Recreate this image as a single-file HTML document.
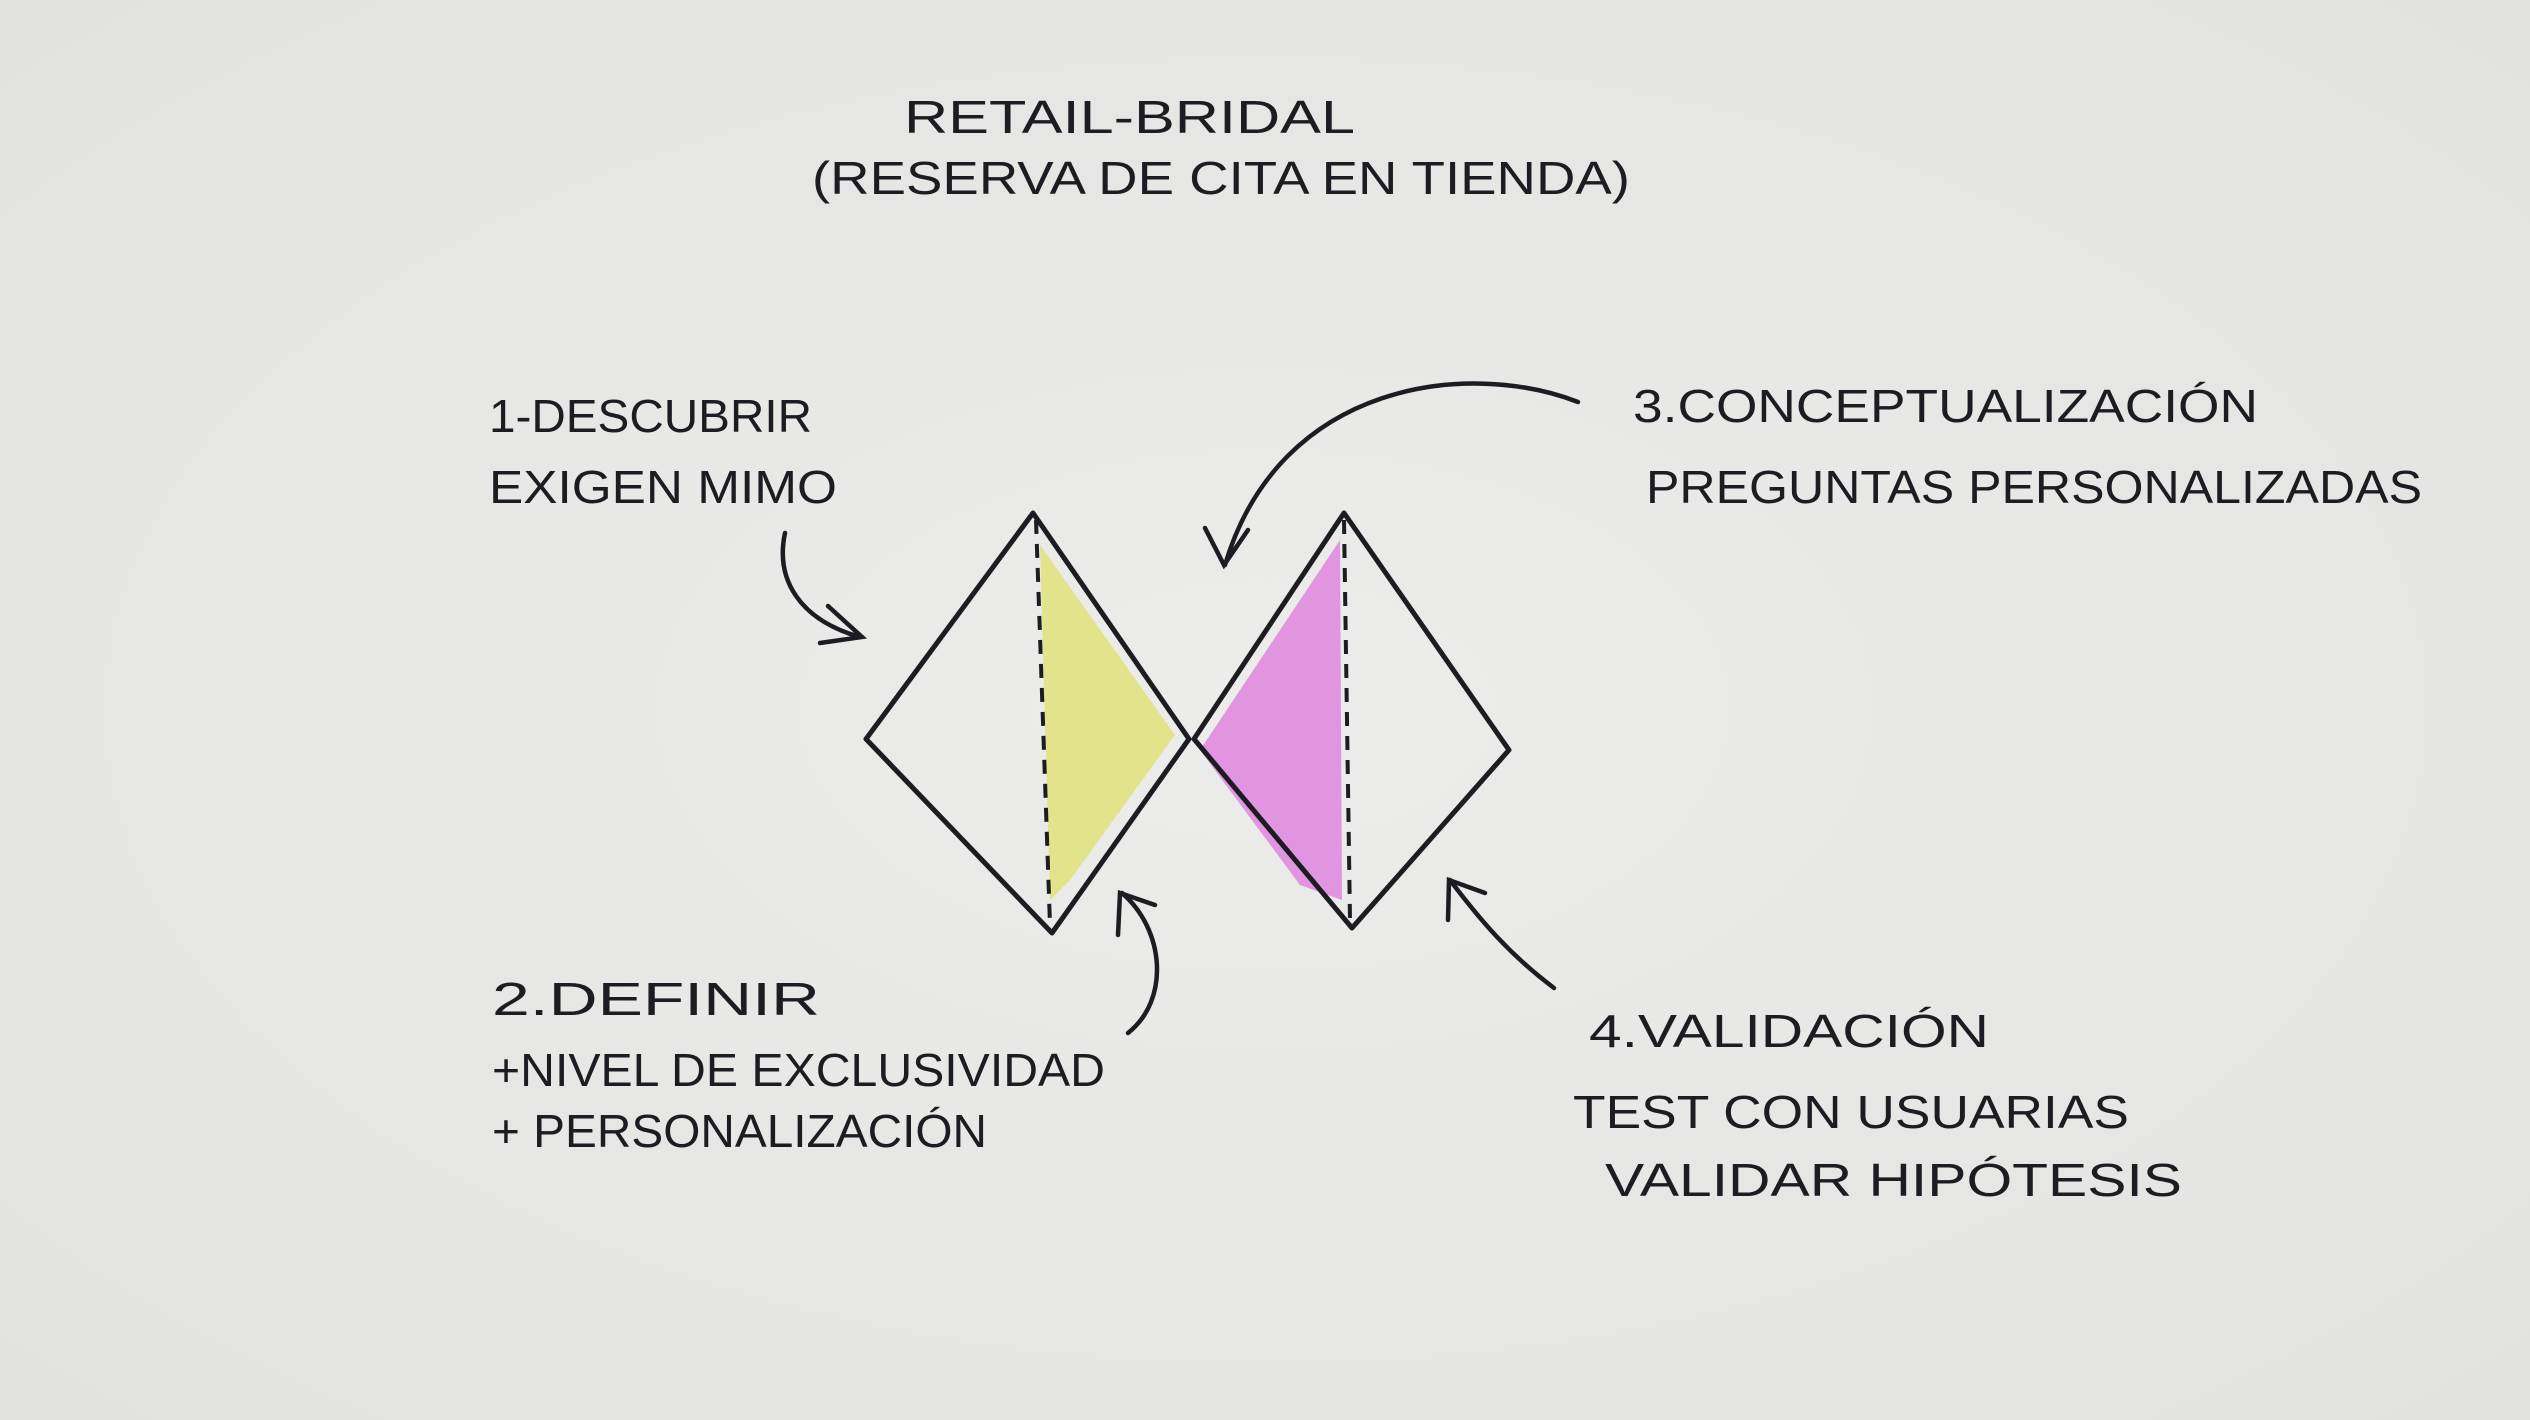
<!DOCTYPE html>
<html><head><meta charset="utf-8"><style>
html,body{margin:0;padding:0;background:#e9e9e7;}
svg{display:block;}
text{font-family:"Liberation Sans",sans-serif;fill:#1c1c22;font-size:46px;}
</style></head><body>
<svg width="2530" height="1420" viewBox="0 0 2530 1420" xmlns="http://www.w3.org/2000/svg">
<defs>
<radialGradient id="bg" cx="50%" cy="50%" r="70%">
<stop offset="0" stop-color="#ececea"/><stop offset="1" stop-color="#e2e2e0"/>
</radialGradient>
</defs>
<rect width="2530" height="1420" fill="url(#bg)"/>

<text x="904" y="133" textLength="451" lengthAdjust="spacingAndGlyphs" font-size="48">RETAIL-BRIDAL</text>
<text x="812" y="194" textLength="818" lengthAdjust="spacingAndGlyphs" font-size="48">(RESERVA DE CITA EN TIENDA)</text>

<!-- fills -->
<polygon points="1040,545 1175,735 1070,880 1050,900" fill="#dfe37a" opacity="0.85"/>
<polygon points="1340,540 1342,900 1300,885 1200,750" fill="#e08ce0" opacity="0.9"/>

<!-- diamonds -->
<polygon points="1033,513 1189,739 1052,933 866,739" fill="none" stroke="#1c1c22" stroke-width="5" stroke-linejoin="round"/>
<polygon points="1344,513 1509,750 1352,928 1194,739" fill="none" stroke="#1c1c22" stroke-width="5" stroke-linejoin="round"/>
<line x1="1036" y1="520" x2="1050" y2="925" stroke="#1c1c22" stroke-width="4" stroke-dasharray="14,10"/>
<line x1="1344" y1="520" x2="1350" y2="920" stroke="#1c1c22" stroke-width="4" stroke-dasharray="14,10"/>

<!-- arrows -->
<g fill="none" stroke="#1c1c22" stroke-width="4.5" stroke-linecap="round">
<path d="M785,533 C775,580 800,620 860,637"/>
<path d="M828,606 L862,637 L820,643"/>
<path d="M1578,402 C1470,360 1280,380 1225,565"/>
<path d="M1205,528 L1224,565 L1248,530"/>
<path d="M1128,1033 C1170,1000 1165,930 1122,893"/>
<path d="M1118,935 L1120,893 L1155,905"/>
<path d="M1554,988 C1510,955 1480,920 1450,880"/>
<path d="M1448,920 L1449,880 L1485,893"/>
</g>

<text x="489" y="432" textLength="323" lengthAdjust="spacingAndGlyphs">1-DESCUBRIR</text>
<text x="489" y="503" textLength="348" lengthAdjust="spacingAndGlyphs">EXIGEN MIMO</text>

<text x="1633" y="422" textLength="625" lengthAdjust="spacingAndGlyphs">3.CONCEPTUALIZACIÓN</text>
<text x="1646" y="503" textLength="776" lengthAdjust="spacingAndGlyphs">PREGUNTAS PERSONALIZADAS</text>

<text x="492" y="1015" textLength="328" lengthAdjust="spacingAndGlyphs">2.DEFINIR</text>
<text x="492" y="1086" textLength="613" lengthAdjust="spacingAndGlyphs">+NIVEL DE EXCLUSIVIDAD</text>
<text x="492" y="1147" textLength="495" lengthAdjust="spacingAndGlyphs">+ PERSONALIZACIÓN</text>

<text x="1589" y="1047" textLength="400" lengthAdjust="spacingAndGlyphs">4.VALIDACIÓN</text>
<text x="1573" y="1128" textLength="556" lengthAdjust="spacingAndGlyphs">TEST CON USUARIAS</text>
<text x="1605" y="1196" textLength="577" lengthAdjust="spacingAndGlyphs">VALIDAR HIPÓTESIS</text>
</svg>
</body></html>
